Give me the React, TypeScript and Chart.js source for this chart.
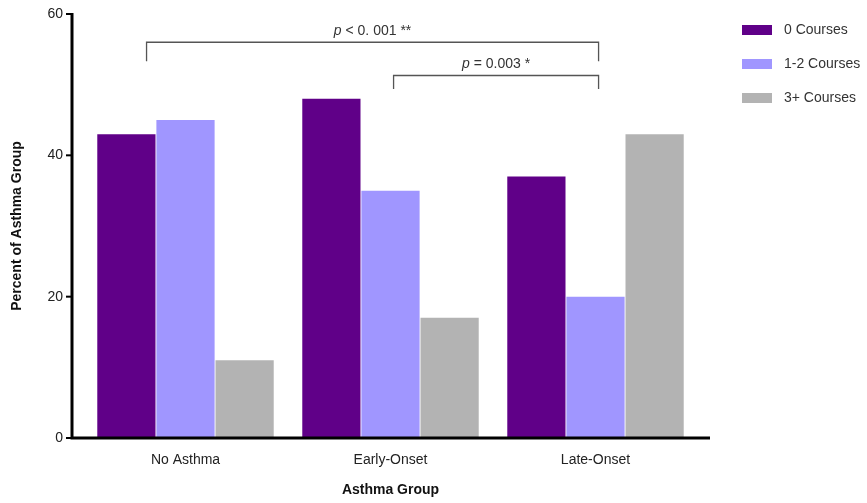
import React, { useEffect, useRef } from "react";
import { Chart, registerables } from "chart.js";

Chart.register(...registerables);

const categories = ["No Asthma", "Early-Onset", "Late-Onset"];
const seriesNames = ["0 Courses", "1-2 Courses", "3+ Courses"];
const zeroCourses = [43, 48, 37];
const oneTwoCourses = [45, 35, 20];
const threePlusCourses = [11, 17, 43];
const yTickValues = [0, 20, 40, 60];

// significance annotations (category index units / y value units)
const sigLabelP = ["p", "p"];
const sigLabelRest = [" < 0. 001 **", " = 0.003 *"];
const sigFrom = [-0.19, 1.015];
const sigTo = [2.015, 2.015];
const sigLevel = [56, 51.3];
const sigDrop = [53.3, 49.4];

const colors = ["#600088", "#A096FF", "#B3B3B3"];
const FONT = "'Liberation Sans', Arial, sans-serif";

const decorPlugin = {
  id: "decor",
  afterDatasetsDraw(chart: any) {
    const { ctx, chartArea, scales } = chart;
    const x = scales.x;
    const y = scales.y;
    const axisX = chartArea.left - 11;
    const axisY = y.getPixelForValue(0);
    ctx.save();
    // axes
    ctx.strokeStyle = "#000";
    ctx.lineWidth = 3;
    ctx.beginPath();
    ctx.moveTo(axisX, y.getPixelForValue(60) - 1);
    ctx.lineTo(axisX, axisY);
    ctx.lineTo(chartArea.right + 12, axisY);
    ctx.stroke();
    ctx.lineWidth = 2;
    yTickValues.forEach((v) => {
      const py = y.getPixelForValue(v);
      ctx.beginPath();
      ctx.moveTo(axisX - 6, py);
      ctx.lineTo(axisX, py);
      ctx.stroke();
    });
    // significance brackets
    const catW = x.getPixelForValue(1) - x.getPixelForValue(0);
    const cx = (v: number) => x.getPixelForValue(0) + v * catW;
    ctx.strokeStyle = "#555";
    ctx.lineWidth = 1.3;
    for (let i = 0; i < sigFrom.length; i++) {
      const x1 = cx(sigFrom[i]);
      const x2 = cx(sigTo[i]);
      const yl = y.getPixelForValue(sigLevel[i]);
      const yd = y.getPixelForValue(sigDrop[i]);
      ctx.beginPath();
      ctx.moveTo(x1, yd);
      ctx.lineTo(x1, yl);
      ctx.lineTo(x2, yl);
      ctx.lineTo(x2, yd);
      ctx.stroke();
      ctx.fillStyle = "#333";
      ctx.textBaseline = "alphabetic";
      ctx.font = `italic 14px ${FONT}`;
      const wP = ctx.measureText(sigLabelP[i]).width;
      ctx.font = `14px ${FONT}`;
      const wR = ctx.measureText(sigLabelRest[i]).width;
      const mid = (x1 + x2) / 2;
      const startX = mid - (wP + wR) / 2;
      const ty = yl - 7;
      ctx.font = `italic 14px ${FONT}`;
      ctx.textAlign = "left";
      ctx.fillText(sigLabelP[i], startX, ty);
      ctx.font = `14px ${FONT}`;
      ctx.fillText(sigLabelRest[i], startX + wP, ty);
    }
    // legend
    const lx = 742;
    const rows = [30, 64, 98];
    chart.data.datasets.forEach((ds: any, i: number) => {
      ctx.fillStyle = ds.backgroundColor;
      ctx.fillRect(lx, rows[i] - 5, 30, 10);
      ctx.fillStyle = "#333";
      ctx.font = `14px ${FONT}`;
      ctx.textAlign = "left";
      ctx.textBaseline = "middle";
      ctx.fillText(ds.label, lx + 42, rows[i]);
    });
    ctx.restore();
  },
};

export default function App() {
  const ref = useRef<HTMLCanvasElement>(null);
  useEffect(() => {
    document.body.style.margin = "0";
    const chart = new Chart(ref.current!, {
      type: "bar",
      data: {
        labels: categories,
        datasets: [zeroCourses, oneTwoCourses, threePlusCourses].map((d, i) => ({
          label: seriesNames[i],
          data: d,
          backgroundColor: colors[i],
          borderColor: "#ffffff",
          borderWidth: 0,
          categoryPercentage: 0.865,
          barPercentage: 0.985,
        })),
      },
      options: {
        responsive: false,
        animation: false,
        layout: { padding: { top: 14, right: 169, left: 0, bottom: 0 } },
        plugins: { legend: { display: false }, tooltip: { enabled: false } },
        scales: {
          x: {
            grid: { display: false, drawTicks: false },
            border: { display: false },
            ticks: { color: "#222", font: { family: FONT, size: 14 }, padding: 14 },
            title: {
              display: true,
              text: "Asthma Group",
              color: "#111",
              font: { family: FONT, size: 14, weight: "bold" },
              padding: { top: 0, bottom: 4 },
            },
            afterFit: (s: any) => {
              s.height = 65;
              s.paddingLeft = 0;
              s.paddingRight = 0;
            },
          },
          y: {
            min: 0,
            max: 60,
            grid: { display: false, drawTicks: false },
            border: { display: false },
            ticks: {
              stepSize: 20,
              color: "#222",
              font: { family: FONT, size: 14 },
              padding: 20,
            },
            title: {
              display: true,
              text: "Percent of Asthma Group",
              color: "#111",
              font: { family: FONT, size: 14, weight: "bold" },
              padding: { top: 9, bottom: 0 },
            },
            afterFit: (s: any) => {
              s.width = 83;
              s.paddingTop = 0;
              s.paddingBottom = 0;
            },
          },
        },
      },
      plugins: [decorPlugin],
    });
    return () => chart.destroy();
  }, []);
  return (
    <div style={{ width: 867, height: 503 }}>
      <canvas ref={ref} width={867} height={503} style={{ display: "block" }} />
    </div>
  );
}
